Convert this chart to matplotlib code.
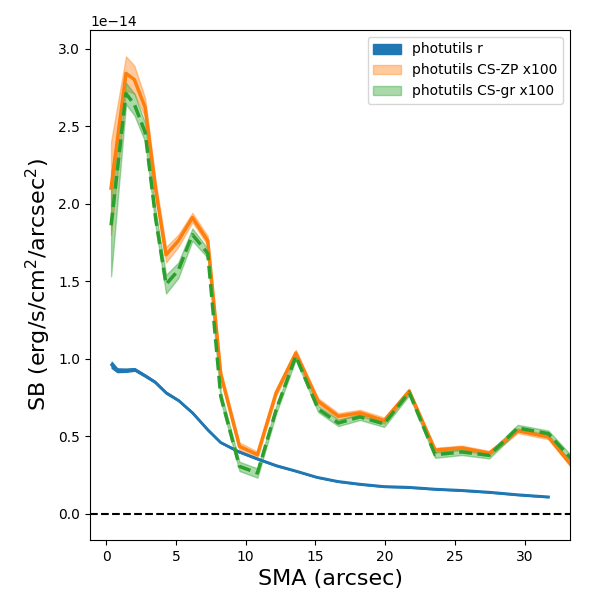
import numpy as np
import matplotlib
matplotlib.use('Agg')
import matplotlib.pyplot as plt

# SMA grid (arcsec)
sma = np.array([0.36, 1.43, 2.03, 2.8, 3.56, 4.3, 5.18, 6.19, 7.29, 8.22, 9.56,
                10.85, 12.19, 13.6, 15.2, 16.65, 18.2, 19.93, 21.72, 23.58,
                25.5, 27.46, 29.5, 31.7, 34.0])

# photutils r profile (1e-14 units)
sma_r = np.array([0.4, 0.8, 1.45, 2.05, 2.8, 3.5, 4.3, 5.2, 6.2, 7.3, 8.2, 9.5,
                  10.8, 12.2, 13.6, 15.1, 16.6, 18.2, 19.9, 21.7, 23.6, 25.5,
                  27.5, 29.5, 31.7])
sb_r = np.array([0.96, 0.925, 0.925, 0.93, 0.89, 0.85, 0.78, 0.73, 0.65, 0.54,
                 0.46, 0.40, 0.355, 0.31, 0.275, 0.235, 0.208, 0.19, 0.175,
                 0.17, 0.158, 0.15, 0.138, 0.122, 0.108])
err_r = np.array([0.02, 0.012, 0.01, 0.008, 0.007, 0.006, 0.006, 0.005, 0.005,
                  0.005, 0.004, 0.004, 0.004, 0.004, 0.003, 0.003, 0.003, 0.003,
                  0.003, 0.003, 0.003, 0.003, 0.003, 0.003, 0.003])

# colour-scaled profiles x100
sb_zp = np.array([2.10, 2.84, 2.80, 2.62, 2.09, 1.67, 1.76, 1.91, 1.76, 0.90,
                  0.434, 0.38, 0.78, 1.036, 0.725, 0.628, 0.65, 0.60, 0.79,
                  0.41, 0.424, 0.39, 0.535, 0.495, 0.24])
err_zp = np.array([0.30, 0.11, 0.09, 0.06, 0.05, 0.05, 0.04, 0.03, 0.03, 0.025,
                   0.025, 0.02, 0.02, 0.02, 0.02, 0.02, 0.02, 0.02, 0.015,
                   0.015, 0.015, 0.015, 0.015, 0.015, 0.015])
sb_gr = np.array([1.86, 2.71, 2.64, 2.46, 1.90, 1.48, 1.57, 1.80, 1.68, 0.757,
                  0.305, 0.262, 0.67, 1.015, 0.675, 0.585, 0.624, 0.579, 0.783,
                  0.38, 0.398, 0.376, 0.553, 0.516, 0.29])
err_gr = np.array([0.33, 0.07, 0.07, 0.06, 0.05, 0.06, 0.05, 0.04, 0.03, 0.03,
                   0.03, 0.03, 0.025, 0.02, 0.02, 0.02, 0.02, 0.02, 0.02, 0.02,
                   0.02, 0.02, 0.02, 0.02, 0.02])

scale = 1e-14

fig = plt.figure(figsize=(6, 6), dpi=100)
ax = fig.add_axes([0.15, 0.1, 0.8, 0.85])

ax.fill_between(sma_r, (sb_r - err_r) * scale, (sb_r + err_r) * scale,
                color='C0', alpha=1, label='photutils r')
ax.plot(sma_r, sb_r * scale, color='C0', lw=2)

ax.fill_between(sma, (sb_zp - err_zp) * scale, (sb_zp + err_zp) * scale,
                color='C1', alpha=0.4, label='photutils CS-ZP x100')
ax.plot(sma, sb_zp * scale, color='C1', lw=2.5)

ax.fill_between(sma, (sb_gr - err_gr) * scale, (sb_gr + err_gr) * scale,
                color='C2', alpha=0.4, label='photutils CS-gr x100')
ax.plot(sma, sb_gr * scale, color='C2', lw=2.5, ls='--')

ax.axhline(0, color='k', ls='--', lw=1.5)

ax.set_xlim(-1.15, 33.25)
ax.set_ylim(-0.17e-14, 3.12e-14)
ax.set_xlabel('SMA (arcsec)', fontsize=16)
ax.set_ylabel('SB (erg/s/cm$^2$/arcsec$^2$)', fontsize=16)
ax.legend(loc='upper right')

plt.savefig('out.png')
